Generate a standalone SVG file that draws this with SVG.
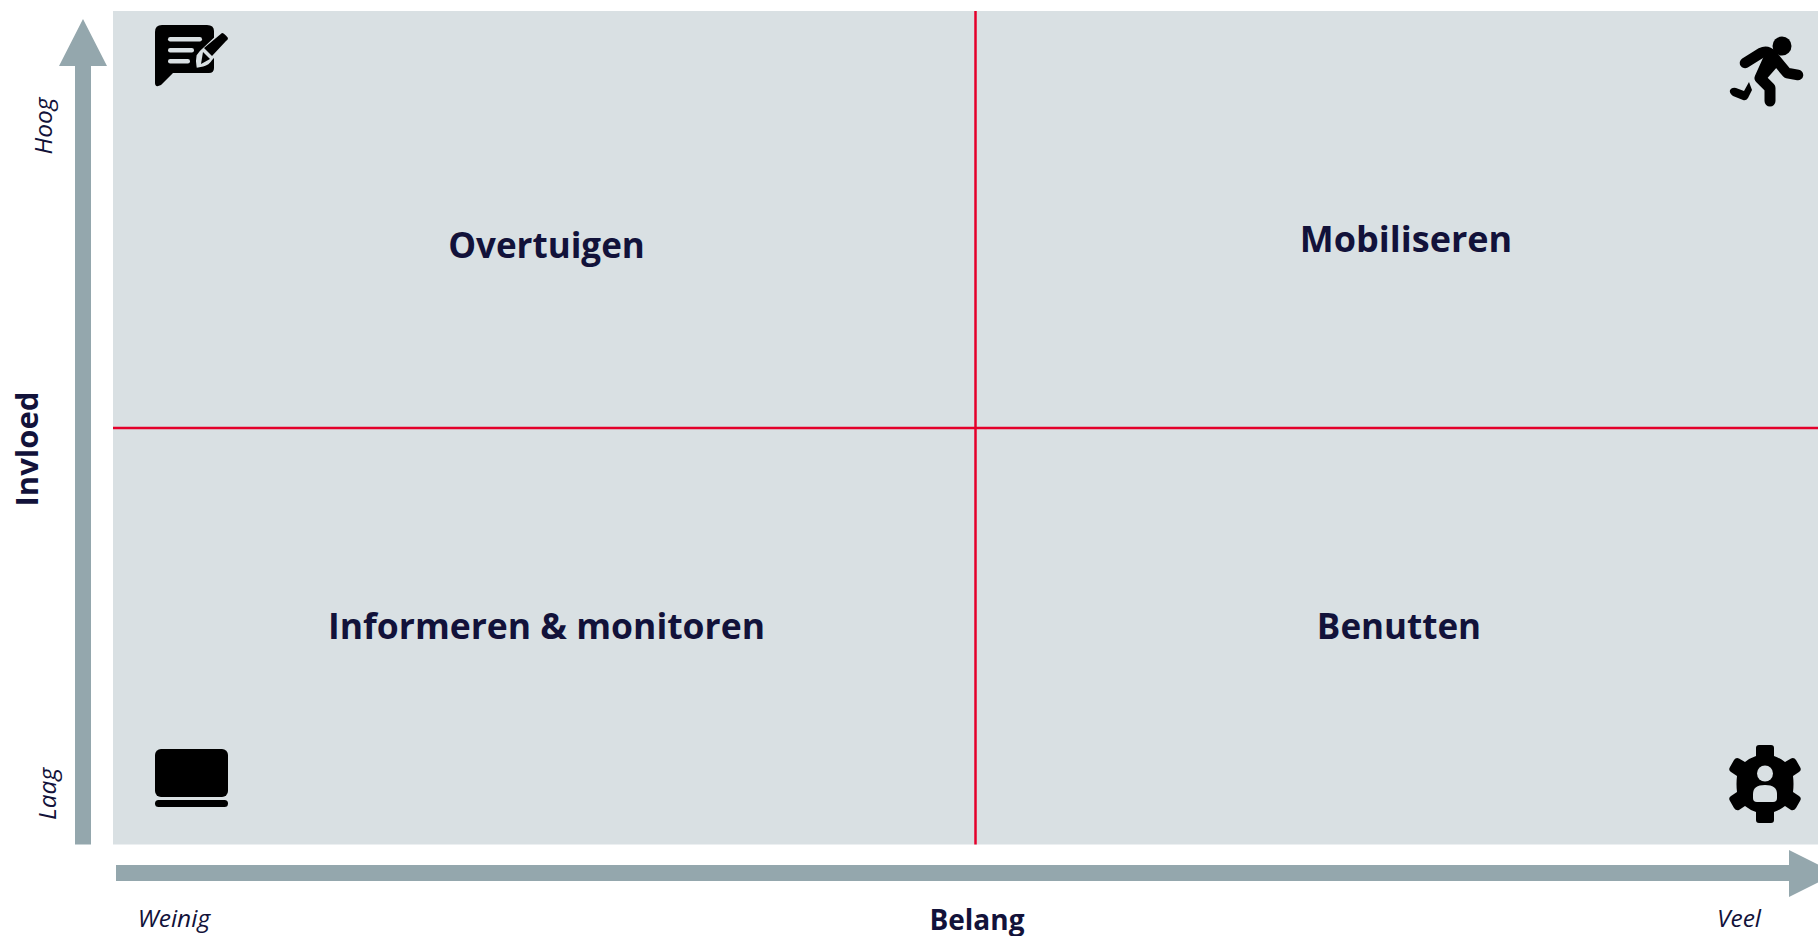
<svg xmlns="http://www.w3.org/2000/svg" width="1818" height="936" viewBox="0 0 1818 936">
<style>
.q{font-family:"Open Sans","Noto Sans","Liberation Sans",sans-serif;font-weight:700;font-size:35.500px;fill:#12123a;text-anchor:middle}
.a{font-family:"Open Sans","Noto Sans","Liberation Sans",sans-serif;font-weight:700;font-size:28px;fill:#12123a;text-anchor:middle}
.s{font-family:"Open Sans","Noto Sans","Liberation Sans",sans-serif;font-style:italic;font-size:24.500px;fill:#12123a;text-anchor:middle}
.r{stroke:#e4002b;stroke-width:2.5;fill:none}
.ar{fill:#94a7ad}
</style>
<rect width="1818" height="936" fill="#fff"/>
<rect id="panel" x="113" y="11" width="1705" height="833.500" fill="#d9e0e3"/>
<g id="connectors">
<path class="r" d="M975.500 11V844.500"/>
<path class="r" d="M113 428H1818"/>
<path id="y-axis" class="ar" d="M75 844.500V66H59L83 19L107 66H91V844.500Z"/>
<path id="x-axis" class="ar" d="M116 865H1789V850L1836 873.500L1789 897V881H116Z"/>
</g>
<g id="overtuigen"><text class="q" style="font-size:35px" x="546.500" y="257.500">Overtuigen</text></g>
<g id="mobiliseren"><text class="q" style="font-size:36px" x="1406" y="252">Mobiliseren</text></g>
<g id="informeren"><text class="q" x="546.500" y="639">Informeren &amp; monitoren</text></g>
<g id="benutten"><text class="q" style="font-size:35px" x="1399" y="639">Benutten</text></g>
<g id="invloed"><text class="a" style="font-size:31px" transform="translate(38 449) rotate(-90)">Invloed</text></g>
<g id="belang"><text class="a" x="977" y="930">Belang</text></g>
<g id="hoog"><text class="s" transform="translate(52 126) rotate(-90)">Hoog</text></g>
<g id="laag"><text class="s" transform="translate(56 794) rotate(-90)">Laag</text></g>
<g id="weinig"><text class="s" x="174" y="927">Weinig</text></g>
<g id="veel"><text class="s" x="1739" y="927">Veel</text></g>
<g id="icon-write">
<path d="M162 25H207Q214 25 214 31V68Q214 73 209 73H173L161 85Q155 88 155 83V32Q155 25 162 25Z" fill="#000"/>
<rect x="168" y="37" width="34" height="4.500" rx="2.200" fill="#d9e0e3"/>
<rect x="168" y="48" width="26" height="4.500" rx="2.200" fill="#d9e0e3"/>
<rect x="168" y="59" width="22" height="4.500" rx="2.200" fill="#d9e0e3"/>
<path d="M221 33L228 40L211 59Q208 64 203 65L198 66Q197 60 198 56L201 52Z" fill="#d9e0e3" stroke="#d9e0e3" stroke-width="3"/>
<path d="M222 33Q224 33 228 38Q228 40 226 41L212 56L204 48Z" fill="#000"/>
<path d="M203 52L210 59L201 64Z" fill="#000"/>
</g>
<g id="icon-run" fill="#000">
<circle cx="1782" cy="46" r="9.500"/>
<path d="M1745 63L1761 53Q1767 50 1772 55L1782 67L1787 73L1798 75" fill="none" stroke="#000" stroke-width="10.500" stroke-linecap="round" stroke-linejoin="round"/>
<path d="M1769 58L1760 78L1770 88L1770 101" fill="none" stroke="#000" stroke-width="11" stroke-linecap="round" stroke-linejoin="round"/>
<path d="M1768 54L1778 66L1764 82L1756 76Z"/>
<path d="M1749 82L1752 90L1748 98Q1746 101 1743 100L1733 96Q1729 93 1730 90Q1732 87 1736 88L1744 91Z"/>
</g>
<g id="icon-laptop" fill="#000">
<rect x="155" y="749" width="73" height="48" rx="6"/>
<rect x="155" y="800" width="73" height="7" rx="3.500"/>
</g>
<g id="icon-gear">
<path fill="#000" d="M1759 745H1771Q1774 745 1774 748V756Q1780 758 1785 762L1791 758.500Q1794 757 1796 760L1800 767Q1802 770 1799 772L1793 776Q1794 784 1793 792L1799 796Q1802 798 1800 801L1796 808Q1794 811 1791 810L1785 806Q1780 810 1774 812V820Q1774 823 1771 823H1759Q1756 823 1756 820V812Q1750 810 1745 806L1739 810Q1736 811 1734 808L1730 801Q1728 798 1731 796L1737 792Q1736 784 1737 776L1731 772Q1728 770 1730 767L1734 760Q1736 757 1739 758.500L1745 762Q1750 758 1756 756V748Q1756 745 1759 745Z"/>
<circle cx="1765" cy="773.500" r="8" fill="#d9e0e3"/>
<path fill="#d9e0e3" d="M1753 798V794Q1753 785 1765 785Q1777 785 1777 794V798Q1777 802 1773 802H1757Q1753 802 1753 798Z"/>
</g>
</svg>
